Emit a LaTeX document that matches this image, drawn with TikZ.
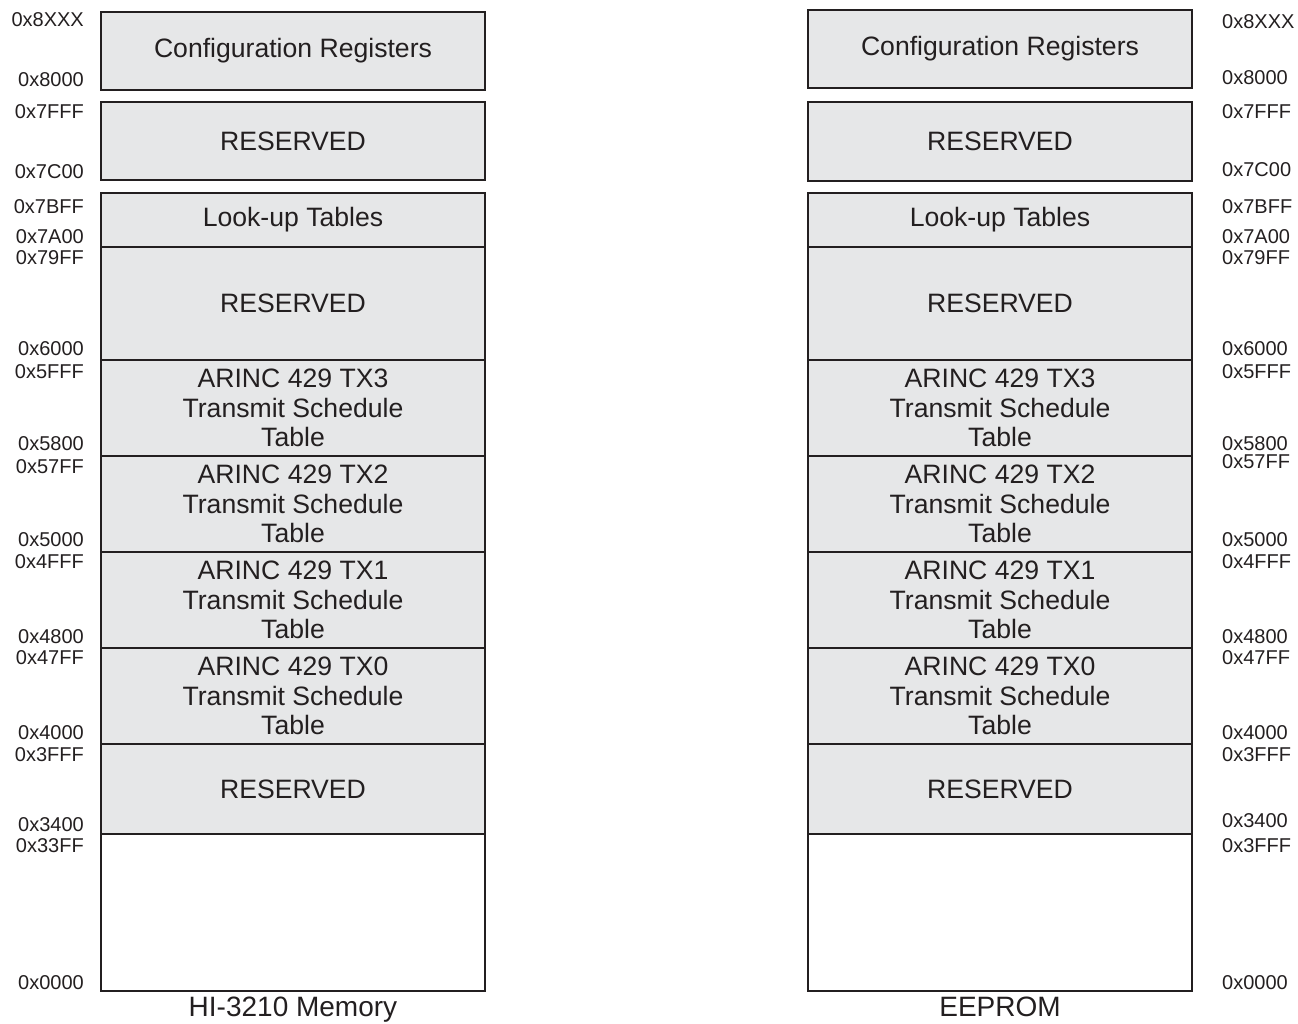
\documentclass[tikz,border=0pt]{standalone}
\usepackage{fontspec}
\setmainfont{Liberation Sans}
\usepackage{xcolor}
\usetikzlibrary{positioning}
\definecolor{memgray}{HTML}{E6E7E8}
\definecolor{memink}{HTML}{231F20}

\begin{document}
\begin{tikzpicture}[
        x=1pt, y=-1pt,
        region/.style={
          draw=memink,
          fill=memgray,
          line width=1.6pt,
          minimum width=384pt,
          inner sep=0pt,
          align=center,
          text=memink,
          font=\fontsize{26.6}{29.5}\selectfont
        },
        freeregion/.style={region, fill=white},
        addr/.style={
          inner sep=0pt,
          text=memink,
          font=\fontsize{20}{22}\selectfont
        },
        caption/.style={
          inner sep=0pt,
          text=memink,
          font=\fontsize{28}{32}\selectfont
        }
      ]
      \useasboundingbox (0,0) rectangle (1298,1023);

      % HI-3210 memory map
      \node[region, minimum height=78pt] (cfgA) at (293,51) {Configuration Registers};
      \node[region, minimum height=78pt] (resA1) at (293,141) {RESERVED};
      \node[region, minimum height=54pt] (lutA) at (293,220) {Look-up Tables};
      \node[region, minimum height=113pt] (resA2) at (293,303.5) {RESERVED};
      \node[region, minimum height=96pt] (txA3) at (293,408) {ARINC 429 TX3\\Transmit Schedule\\Table};
      \node[region, minimum height=96pt] (txA2) at (293,504) {ARINC 429 TX2\\Transmit Schedule\\Table};
      \node[region, minimum height=96pt] (txA1) at (293,600) {ARINC 429 TX1\\Transmit Schedule\\Table};
      \node[region, minimum height=96pt] (txA0) at (293,696) {ARINC 429 TX0\\Transmit Schedule\\Table};
      \node[region, minimum height=90pt] (resA3) at (293,789) {RESERVED};
      \node[freeregion, minimum height=157pt] (freeA) at (293,912.5) {};
      \node[caption, below=5pt of freeA] (capA) {HI-3210 Memory};

      % EEPROM map
      \node[region, minimum height=78pt] (cfgB) at (1000,49) {Configuration Registers};
      \node[region, minimum height=79pt] (resB1) at (1000,141.5) {RESERVED};
      \node[region, minimum height=54pt] (lutB) at (1000,220) {Look-up Tables};
      \node[region, minimum height=113pt] (resB2) at (1000,303.5) {RESERVED};
      \node[region, minimum height=96pt] (txB3) at (1000,408) {ARINC 429 TX3\\Transmit Schedule\\Table};
      \node[region, minimum height=96pt] (txB2) at (1000,504) {ARINC 429 TX2\\Transmit Schedule\\Table};
      \node[region, minimum height=96pt] (txB1) at (1000,600) {ARINC 429 TX1\\Transmit Schedule\\Table};
      \node[region, minimum height=96pt] (txB0) at (1000,696) {ARINC 429 TX0\\Transmit Schedule\\Table};
      \node[region, minimum height=90pt] (resB3) at (1000,789) {RESERVED};
      \node[freeregion, minimum height=157pt] (freeB) at (1000,912.5) {};
      \node[caption, below=5pt of freeB, text depth=0pt] (capB) {EEPROM};

      % addresses
      \foreach \y/\a [count=\i] in {20/0x8XXX, 80/0x8000, 112/0x7FFF, 172/0x7C00,
          207/0x7BFF, 237/0x7A00, 258/0x79FF, 349/0x6000, 372/0x5FFF, 444/0x5800,
          467/0x57FF, 540/0x5000, 562/0x4FFF, 637/0x4800, 658/0x47FF, 733/0x4000,
          755/0x3FFF, 825/0x3400, 846/0x33FF, 983/0x0000}
        \node[addr, anchor=east] (addrA\i) at (84,\y) {\a};
      \foreach \y/\a [count=\i] in {22/0x8XXX, 78/0x8000, 112/0x7FFF, 170/0x7C00,
          207/0x7BFF, 237/0x7A00, 258/0x79FF, 349/0x6000, 372/0x5FFF, 444/0x5800,
          462/0x57FF, 540/0x5000, 562/0x4FFF, 637/0x4800, 658/0x47FF, 733/0x4000,
          755/0x3FFF, 821/0x3400, 846/0x3FFF, 983/0x0000}
        \node[addr, anchor=west] (addrB\i) at (1222,\y) {\a};

      \end{tikzpicture}
\end{document}
